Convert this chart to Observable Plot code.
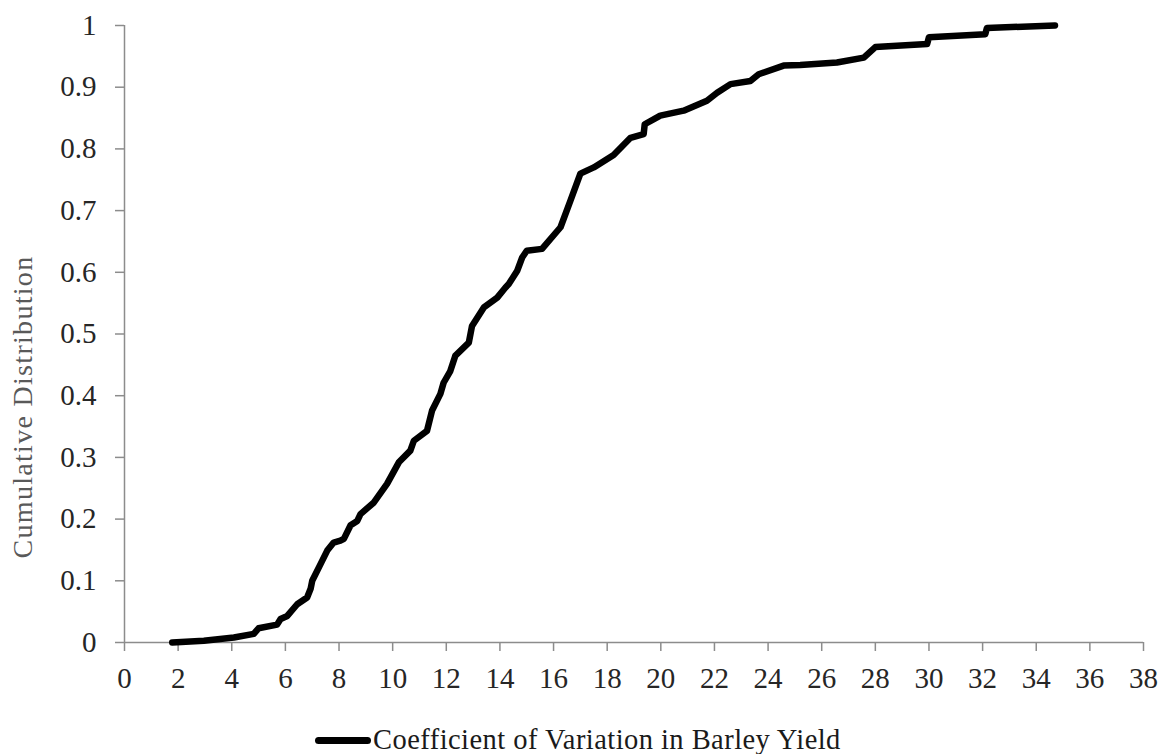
<!DOCTYPE html>
<html>
<head>
<meta charset="utf-8">
<script src="https://cdn.jsdelivr.net/npm/d3@7"></script>
<script src="https://cdn.jsdelivr.net/npm/@observablehq/plot@0.6"></script>
<style>
  html, body { margin: 0; padding: 0; background: #fff; }
  #wrap { position: relative; width: 1166px; height: 754px; overflow: hidden; font-family: "Liberation Serif", "DejaVu Serif", serif; }
  #ytitle { position: absolute; left: 23px; top: 407px; transform: translate(-50%, -50%) rotate(-90deg); white-space: nowrap; font-size: 28px; letter-spacing: 1.3px; color: #595959; line-height: 1; }
  #legend { position: absolute; left: 315px; top: 726px; display: flex; align-items: center; white-space: nowrap; }
  #legend .sw { width: 56px; height: 7px; background: #000; border-radius: 4px; margin-right: 2px; }
  #legend .lb { font-size: 28.5px; letter-spacing: 0.45px; color: #1a1a1a; line-height: 1; }
</style>
</head>
<body>
<div id="wrap">
  <div id="chart"></div>
  <div id="ytitle"></div>
  <div id="legend"><div class="sw"></div><div class="lb"></div></div>
</div>
<script>
const seriesName = "Coefficient of Variation in Barley Yield";
const yTitle = "Cumulative Distribution";
const xTicks = [0,2,4,6,8,10,12,14,16,18,20,22,24,26,28,30,32,34,36,38];
const yTicks = [0,0.1,0.2,0.3,0.4,0.5,0.6,0.7,0.8,0.9,1];
const cvValues = [1.78,2.96,4.08,4.82,5.0,5.69,5.82,6.07,6.44,6.81,6.94,7.0,7.31,7.56,7.8,8.05,8.18,8.43,8.68,8.8,9.3,9.79,10.23,10.66,10.79,11.28,11.47,11.78,11.9,12.15,12.34,12.84,12.96,13.4,13.9,14.2,14.33,14.64,14.83,15.0,15.57,16.26,16.63,17.0,17.5,18.24,18.87,19.36,19.4,19.98,20.85,21.72,22.1,22.6,23.34,23.65,24.58,25.2,26.57,27.57,28.0,29.93,30.0,32.1,32.16,34.7];
const cdfValues = [0,0.003,0.008,0.014,0.023,0.029,0.038,0.043,0.062,0.073,0.087,0.1,0.127,0.149,0.162,0.165,0.168,0.19,0.197,0.208,0.227,0.257,0.292,0.311,0.327,0.343,0.376,0.403,0.421,0.44,0.465,0.486,0.513,0.543,0.559,0.575,0.581,0.602,0.624,0.635,0.638,0.673,0.716,0.76,0.77,0.79,0.818,0.824,0.84,0.854,0.862,0.878,0.891,0.905,0.91,0.921,0.935,0.936,0.94,0.948,0.965,0.97,0.981,0.986,0.996,1.0];

const data = cvValues.map((x, i) => ({x, y: cdfValues[i]}));
const axisColor = "#8c8c8c";

const chart = Plot.plot({
  width: 1166,
  height: 700,
  marginLeft: 124,
  marginRight: 23,
  marginTop: 25,
  marginBottom: 58,
  style: {fontFamily: '"Liberation Serif", serif', fontSize: "29px", color: "#262626", background: "#fff"},
  x: {domain: [0, 38]},
  y: {domain: [0, 1]},
  marks: [
    Plot.ruleY([0], {stroke: axisColor, strokeWidth: 1.5}),
    Plot.ruleX([0], {stroke: axisColor, strokeWidth: 1.5}),
    Plot.axisX({ticks: xTicks, tickSize: 9, tickPadding: 16, stroke: axisColor, strokeWidth: 1.5, label: null, tickFormat: d => String(d)}),
    Plot.axisY({ticks: yTicks, tickSize: 9, tickPadding: 19, stroke: axisColor, strokeWidth: 1.5, label: null, tickFormat: d => String(+d.toFixed(1))}),
    Plot.line(data, {x: "x", y: "y", stroke: "#000", strokeWidth: 6.5, strokeLinejoin: "round", strokeLinecap: "round"})
  ]
});
document.getElementById("chart").appendChild(chart);
document.getElementById("ytitle").textContent = yTitle;
document.querySelector("#legend .lb").textContent = seriesName;
</script>
</body>
</html>
